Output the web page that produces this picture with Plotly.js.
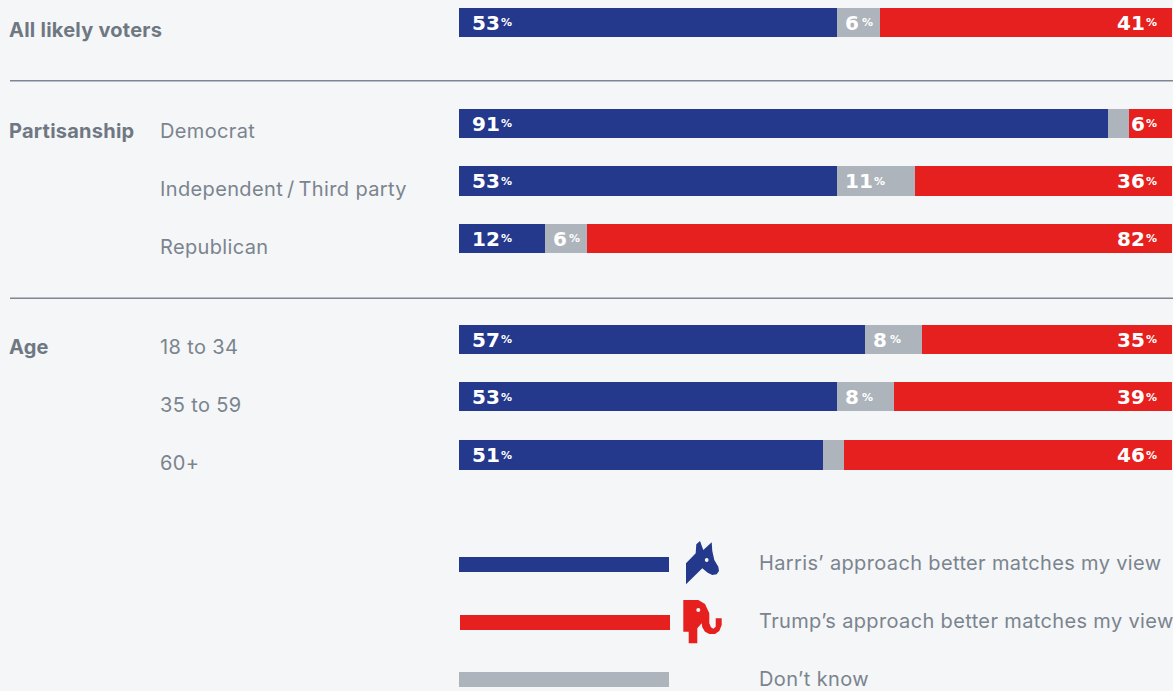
<!DOCTYPE html>
<html>
<head>
<meta charset="utf-8">
<script src="https://cdn.plot.ly/plotly-3.0.1.min.js"></script>
<style>
html,body{margin:0;padding:0;background:#f4f6f8;overflow:hidden}
/* Slightly open tracking on the grotesque labels, tighter on the bold ones */
#chart text[style*="Inter"]{letter-spacing:.36px}
#chart text[style*="Inter"] tspan[style*="bold"]{letter-spacing:.24px}
</style>
</head>
<body>
<div id="chart" style="width:1173px;height:691px"></div>
<script>
// Survey shares by voter group
const groupLabels = ["All likely voters", "Partisanship", "", "", "Age", "", ""];
const rowLabels = ["", "Democrat", "Independent\u2009/\u2009Third party", "Republican", "18 to 34", "35 to 59", "60+"];
const harris = [53, 91, 53, 12, 57, 53, 51];
const dontKnow = [6, 3, 11, 6, 8, 8, 3];
const trump = [41, 6, 36, 82, 35, 39, 46];
const legendLabels = ["Harris’ approach better matches my view", "Trump’s approach better matches my view", "Don’t know"];

const BLUE = "#24388c", RED = "#e6201e", GREY = "#adb4bb", INK = "#7b848e", BOLD = "#6f7882", RULE = "#7d8794", BG = "#f4f6f8";
const W = 1173, H = 691;

// Rows sit on a row-unit scale, with a wider step between the three blocks
const ROW_PX = 57.4, FIRST_ROW_PX = 22.4;
const rowPos = [0, 1.76, 2.76, 3.76, 5.52, 6.52, 7.535];
const rowTextY = [30, 131, 189, 247, 347, 405, 463];
const px = x => x / W;
const py = y => 1 - y / H;

const barTrace = (name, values, color) => ({
  type: "bar", orientation: "h", name,
  x: values, y: rowPos, width: 29.4 / ROW_PX,
  marker: {color, line: {width: 0}}, hoverinfo: "skip", showlegend: false
});

// Value labels: the figure, then a small percent sign beside it
const NUM_FONT = "'DejaVu Sans', sans-serif";
const DIGIT_W = 12.7, PCT_GAP = 4;
const piece = (x, y, text, size, anchor, shift, lift) => ({
  x, y, xref: "x", yref: "y", text: `<b>${text}</b>`, showarrow: false,
  xanchor: anchor, yanchor: "middle", xshift: shift, yshift: lift,
  borderpad: 0, borderwidth: 0,
  font: {family: NUM_FONT, size, color: "#ffffff"}
});
const labelFromLeft = (x, y, v, shift) => {
  const w = String(v).length * DIGIT_W;
  return [piece(x, y, v, 20, "left", shift, -0.5), piece(x, y, "%", 11, "left", shift + w + PCT_GAP, -0.5)];
};
const labelFromRight = (x, y, v, shift) => [
  piece(x, y, "%", 11, "right", shift, -0.5),
  piece(x, y, v, 20, "right", shift - 12, -0.5)
];
const textLabel = (xp, yp, text, bold) => ({
  x: px(xp), y: py(yp), xref: "paper", yref: "paper", text: bold ? `<b>${text}</b>` : text,
  showarrow: false, xanchor: "left", yanchor: "middle", align: "left",
  font: {family: "Inter, sans-serif", size: 20, color: bold ? BOLD : INK}
});

const annotations = [];
rowPos.forEach((p, i) => {
  annotations.push(...labelFromLeft(0, p, harris[i], 13));
  if (dontKnow[i] > 3) annotations.push(...labelFromLeft(harris[i], p, dontKnow[i], 8));
  annotations.push(...labelFromRight(100, p, trump[i], -15));
  if (groupLabels[i]) annotations.push(textLabel(7, rowTextY[i], groupLabels[i], true));
  if (rowLabels[i]) annotations.push(textLabel(158, rowTextY[i], rowLabels[i], false));
});
legendLabels.forEach((t, i) => annotations.push(textLabel(757, 563 + i * 58, t, false)));

// Helpers for shapes placed in page pixels
const rectPx = (x0, y0, x1, y1, fill) => ({
  type: "rect", xref: "paper", yref: "paper",
  x0: px(x0), x1: px(x1), y0: py(y0), y1: py(y1),
  fillcolor: fill, line: {width: 0}, layer: "above"
});
const pathPx = (pts, fill) => ({
  type: "path", xref: "paper", yref: "paper", fillcolor: fill, line: {width: 0}, layer: "above",
  path: "M" + pts.map(p => `${px(p[0])},${py(p[1])}`).join("L") + "Z"
});
const circlePx = (cx, cy, r, fill) => ({
  type: "circle", xref: "paper", yref: "paper",
  x0: px(cx - r), x1: px(cx + r), y0: py(cy - r), y1: py(cy + r),
  fillcolor: fill, line: {width: 0}, layer: "above"
});

// Party mascots next to the legend keys
const donkey = [[686,584.3],[686,563.3],[695.7,553.3],[696.3,544.3],[700,541],[703.3,550],[711.7,542.3],[712.3,551],[714.3,560],[718.3,566.7],[719,571],[716.7,574.3],[712.3,575],[707.7,572.7],[702.3,568.3]];
const elephant = [[683.3,600],[698.3,600],[705,604],[709.3,613.3],[709.3,623.3],[711,627.3],[713.3,628.7],[715.7,626.7],[715.7,618.3],[721.7,618.3],[721.7,625],[719.3,631],[715,634],[709.3,634],[705,631.7],[702.3,627.3],[701.7,623.3],[697.3,628.3],[697.3,643.3],[688.7,643.3],[688.7,631.7],[683.3,631.7]];

const shapes = [
  rectPx(10, 80, 1173, 81.5, RULE),
  rectPx(10, 297.5, 1173, 299, RULE),
  rectPx(459, 557, 669, 572, BLUE),
  rectPx(460, 615, 670, 630, RED),
  rectPx(459, 672, 669, 687, GREY),
  pathPx(donkey, BLUE),
  circlePx(706.7, 560, 1.9, BG),
  pathPx(elephant, RED),
  circlePx(698.3, 610, 2, BG)
];

const layout = {
  width: W, height: H, margin: {l: 0, r: 0, t: 0, b: 0},
  paper_bgcolor: BG, plot_bgcolor: BG, barmode: "stack", showlegend: false,
  xaxis: {domain: [459 / W, 1172 / W], range: [0, 100], visible: false, fixedrange: true},
  yaxis: {domain: [0, 1], range: [(H - FIRST_ROW_PX) / ROW_PX, -FIRST_ROW_PX / ROW_PX], visible: false, fixedrange: true},
  annotations, shapes
};

Plotly.newPlot("chart", [
  barTrace("Harris", harris, BLUE),
  barTrace("Don't know", dontKnow, GREY),
  barTrace("Trump", trump, RED)
], layout, {displayModeBar: false, staticPlot: true});
</script>
</body>
</html>
